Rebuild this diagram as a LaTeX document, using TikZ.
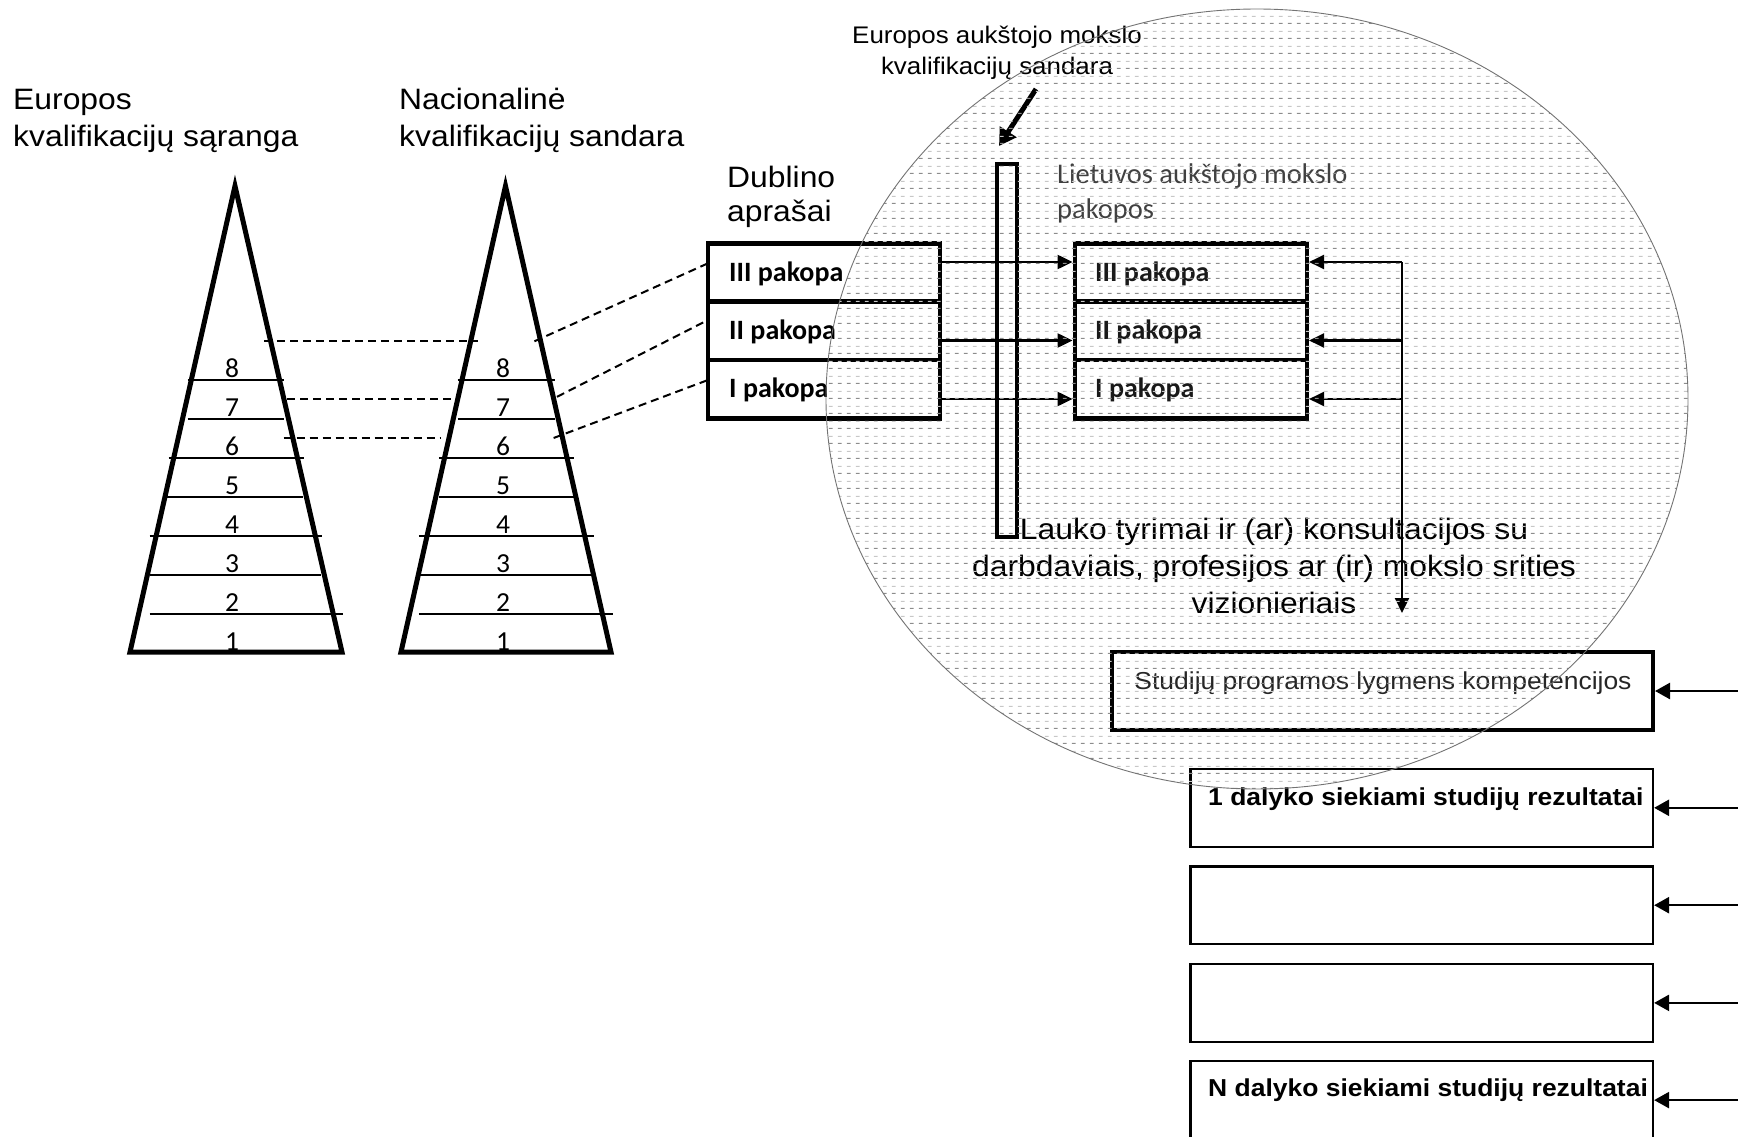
\documentclass[tikz,border=0pt]{standalone}
\usepackage{fontspec}
\setmainfont{Liberation Sans}[FakeStretch=1.08]
\newfontfamily\calfont{Carlito}
\usetikzlibrary{arrows.meta,patterns,shapes.geometric}

\pgfdeclarepatterninherentlycolored{dashrows}
{\pgfqpoint{0pt}{0pt}}{\pgfqpoint{9pt}{15pt}}{\pgfqpoint{9pt}{15pt}}
{%
  \pgfsetlinewidth{1.1pt}%
  \pgfsetstrokecolor{black!45}%
  \pgfpathmoveto{\pgfqpoint{1pt}{3.75pt}}%
  \pgfpathlineto{\pgfqpoint{5pt}{3.75pt}}%
  \pgfusepath{stroke}%
  \pgfsetstrokecolor{black!22}%
  \pgfpathmoveto{\pgfqpoint{1pt}{11.25pt}}%
  \pgfpathlineto{\pgfqpoint{5pt}{11.25pt}}%
  \pgfusepath{stroke}%
}

\begin{document}
\begin{tikzpicture}[x=1pt,y=-1pt,
  lbl/.style={inner sep=0pt,anchor=base west,font=\fontsize{29.5}{37}\selectfont},
  lblc/.style={inner sep=0pt,anchor=base,font=\fontsize{29.5}{37}\selectfont},
  toplbl/.style={inner sep=0pt,anchor=base,font=\fontsize{24}{30}\selectfont},
  num/.style={inner sep=0pt,anchor=base,font=\calfont\fontsize{27.5}{30}\selectfont},
  lvl/.style={inner sep=0pt,anchor=base west,font=\calfont\bfseries\fontsize{28}{32}\selectfont},
  lt/.style={inner sep=0pt,anchor=base west,font=\calfont\fontsize{28.5}{33}\selectfont,text=black!75},
  tri/.style={draw,line width=5pt,line join=miter},
  rung/.style={line width=2pt},
  dsh/.style={line width=2pt,dash pattern=on 8pt off 5pt},
  rowbox/.style={draw,line width=4.5pt,inner sep=0pt,minimum width=232pt},
  narrowbox/.style={draw,line width=3.5pt,inner sep=0pt,minimum width=20pt,minimum height=373pt},
  studbox/.style={draw,line width=4pt,inner sep=0pt,minimum width=541pt,minimum height=78pt},
  resbox/.style={draw,line width=2.2pt,inner sep=0pt,minimum width=462.5pt,minimum height=77.6pt},
  arr/.style={line width=2.3pt,-{Triangle[length=15pt,width=14pt]}},
  rarr/.style={line width=2.5pt,-{Triangle[length=15pt,width=16pt]}},
  bigarr/.style={line width=5pt,-{Triangle[length=17pt,width=19pt]}},
  restxt/.style={inner sep=0pt,anchor=base west,font=\bfseries\fontsize{24.5}{28}\selectfont},
]
\useasboundingbox (0,0) rectangle (1738,1137);

% ---------- titles ----------
\node[lbl] (eqf1) at (13,109.5) {Europos};
\node[lbl] (eqf2) at (13,147) {kvalifikacijų sąranga};
\node[lbl] (nqf1) at (399,109.5) {Nacionalinė};
\node[lbl] (nqf2) at (399,147) {kvalifikacijų sandara};
\node[lbl] (dub1) at (727,187) {Dublino};
\node[lbl] (dub2) at (727,222) {aprašai};
\node[toplbl] (ehea1) at (997,44) {Europos aukštojo mokslo};
\node[toplbl] (ehea2) at (997,75) {kvalifikacijų sandara};

% ---------- triangles ----------
\draw[tri] (235,186) -- (342,652) -- (130,652) -- cycle;
\draw[tri] (505.5,186) -- (611,652) -- (401,652) -- cycle;

\foreach \yy/\xa/\xb in {380/187.5/284, 419/187.5/284, 458/168.7/303.5, 497/167.4/302.7,
                         536/149.5/322.3, 575/149.5/321.4, 614/149.5/342.8}
  \draw[rung] (\xa,\yy) -- (\xb,\yy);
\foreach \yy/\xa/\xb in {380/457.6/555, 419/457.6/555, 458/438.8/573.7, 497/438.8/573.7,
                         536/418.8/593.8, 575/418.8/593, 614/418.8/612.5}
  \draw[rung] (\xa,\yy) -- (\xb,\yy);

\foreach \n/\yb in {8/377,7/416,6/455,5/494,4/533,3/572,2/611,1/650}{
  \node[num] (ea\n) at (232,\yb) {\n};
  \node[num] (na\n) at (503,\yb) {\n};
}

% dashed links between the frameworks
\coordinate (e8) at (264,341.3);   \coordinate (n8) at (477.7,341.3);
\coordinate (e7) at (287,398.7);   \coordinate (n7) at (455,398.7);
\coordinate (e6) at (283.5,438);   \coordinate (n6) at (439.7,438);
\draw[dsh] (e8) -- (n8);
\draw[dsh] (e7) -- (n7);
\draw[dsh] (e6) -- (n6);

% ---------- Dublin descriptors ----------
\node[rowbox,minimum height=58.4pt] (d3) at (824,272.5) {};
\node[rowbox,minimum height=58.3pt] (d2) at (824,330.85) {};
\node[rowbox,minimum height=58.3pt] (d1) at (824,389.15) {};
\node[lvl] (d3t) at (729,281) {III pakopa};
\node[lvl] (d2t) at (729,339.5) {II pakopa};
\node[lvl] (d1t) at (729,397.5) {I pakopa};

\coordinate (s8) at (534.4,341.3); \coordinate (t8) at (708,263.3);
\coordinate (s7) at (557,396.8);   \coordinate (t7) at (708,320);
\coordinate (s6) at (553.6,438);   \coordinate (t6) at (708,380);
\draw[dsh] (s8) -- (t8);
\draw[dsh] (s7) -- (t7);
\draw[dsh] (s6) -- (t6);

% ---------- Lithuanian cycles ----------
\node[lt] (lt1) at (1057,183.3) {Lietuvos aukštojo mokslo};
\node[lt] (lt2) at (1057,218.3) {pakopos};
\node[rowbox,minimum height=58.4pt] (l3) at (1190.8,272.5) {};
\node[rowbox,minimum height=58.3pt] (l2) at (1190.8,330.85) {};
\node[rowbox,minimum height=58.3pt] (l1) at (1190.8,389.15) {};
\node[lvl,text=black!90] (l3t) at (1095,281) {III pakopa};
\node[lvl,text=black!90] (l2t) at (1095,339.5) {II pakopa};
\node[lvl,text=black!90] (l1t) at (1095,397.5) {I pakopa};

% EHEA framework bar
\node[narrowbox] (bar) at (1007,350.5) {};
\coordinate (bt) at (1036,89);
\coordinate (bh) at (999,146);
\draw[bigarr] (bt) -- (bh);

% arrows Dublin -> cycles
\coordinate (y3) at (0,262);
\coordinate (y2) at (0,340.5);
\coordinate (y1) at (0,399);
\draw[arr] (d3.east |- y3) -- (l3.west |- y3);
\draw[arr] (d2.east |- y2) -- (l2.west |- y2);
\draw[arr] (d1.east |- y1) -- (l1.west |- y1);

% feedback arrows
\coordinate (vx) at (1402,0);
\coordinate (vend) at (1402,613);
\draw[arr] (vx |- y3) -- (vend);
\draw[arr] (vx |- y3) -- (l3.east |- y3);
\draw[arr] (vx |- y2) -- (l2.east |- y2);
\draw[arr] (vx |- y1) -- (l1.east |- y1);

% field research text
\node[lblc] (fr1) at (1274,539) {Lauko tyrimai ir (ar) konsultacijos su};
\node[lblc] (fr2) at (1274,576.5) {darbdaviais, profesijos ar (ir) mokslo srities};
\node[lblc] (fr3) at (1274,613) {vizionieriais};

% ---------- programme / course boxes ----------
\node[studbox] (stud) at (1382.5,691) {};
\node[inner sep=0pt,anchor=base,font=\fontsize{24.5}{30}\selectfont,text=black!85] (studt) at (1383,689.5) {Studijų programos lygmens kompetencijos};

\node[resbox] (r1) at (1421.75,807.8) {};
\node[resbox] (r2) at (1421.75,905.2) {};
\node[resbox] (r3) at (1421.75,1002.9) {};
\node[resbox] (rn) at (1421.75,1100.1) {};
\node[restxt] (r1t) at (1208,805.5) {1 dalyko siekiami studijų rezultatai};
\node[restxt] (rnt) at (1208,1096.6) {N dalyko siekiami studijų rezultatai};

\coordinate (rx) at (1750,0);
\draw[rarr] (stud.east -| rx) -- (stud.east);
\draw[rarr] (r1.east -| rx) -- (r1.east);
\draw[rarr] (r2.east -| rx) -- (r2.east);
\draw[rarr] (r3.east -| rx) -- (r3.east);
\draw[rarr] (rn.east -| rx) -- (rn.east);

% ---------- shaded ellipse on top ----------
\node[ellipse,inner sep=0pt,minimum width=862pt,minimum height=780pt,
      pattern=dashrows,draw=black!55,line width=0.9pt] (field) at (1257,399) {};
\end{tikzpicture}
\end{document}
